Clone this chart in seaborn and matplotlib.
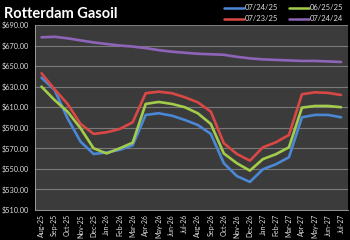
import pandas as pd
import matplotlib
matplotlib.use('Agg')
import matplotlib.pyplot as plt
import seaborn as sns

# Forward curve data
months = ['Aug-25', 'Sep-25', 'Oct-25', 'Nov-25', 'Dec-25', 'Jan-26', 'Feb-26', 'Mar-26',
          'Apr-26', 'May-26', 'Jun-26', 'Jul-26', 'Aug-26', 'Sep-26', 'Oct-26', 'Nov-26',
          'Dec-26', 'Jan-27', 'Feb-27', 'Mar-27', 'Apr-27', 'May-27', 'Jun-27', 'Jul-27']

curve_072425 = [638.7, 626.8, 599.2, 576.5, 564.5, 566.0, 568.5, 573.0, 602.5, 604.1, 601.8, 597.6,
                592.7, 584.0, 555.5, 543.0, 537.3, 549.6, 554.5, 561.3, 600.2, 602.5, 602.5, 600.2]
curve_072325 = [643.0, 627.4, 613.2, 593.7, 584.0, 585.6, 588.8, 595.3, 623.6, 625.1, 623.6, 619.7,
                614.8, 605.7, 575.0, 564.5, 558.0, 571.0, 575.9, 583.0, 622.6, 624.5, 623.9, 621.9]
curve_062525 = [630.0, 617.0, 605.7, 589.5, 570.0, 565.0, 570.0, 575.5, 613.2, 615.1, 613.2, 610.0,
                604.1, 593.7, 565.0, 555.5, 548.3, 559.5, 564.3, 571.0, 609.6, 611.2, 611.2, 610.0]
curve_072424 = [678.0, 678.5, 677.0, 675.0, 673.0, 671.5, 670.0, 669.0, 667.5, 665.5, 664.0, 663.0,
                662.0, 661.5, 661.0, 659.0, 657.5, 656.5, 656.0, 655.5, 655.0, 655.0, 654.5, 654.0]

series_names = ['07/24/25', '07/23/25', '06/25/25', '07/24/24']
series_colors = ['#4a88d6', '#d94845', '#a2cc4a', '#8e64b8']

y_ticks = [510, 530, 550, 570, 590, 610, 630, 650, 670, 690]

frames = []
for name, vals in zip(series_names, [curve_072425, curve_072325, curve_062525, curve_072424]):
    frames.append(pd.DataFrame({'idx': range(len(months)), 'price': vals, 'series': name}))
df = pd.concat(frames, ignore_index=True)

sns.set_style('dark')
plt.rcParams['font.family'] = ['Lato', 'DejaVu Sans']

fig = plt.figure(figsize=(3.5, 2.4), dpi=100, facecolor='black')
ax = fig.add_axes([0.10, 0.125, 0.893, 0.771])
ax.set_facecolor('#3b3b3b')

sns.lineplot(data=df, x='idx', y='price', hue='series', hue_order=series_names,
             palette=series_colors, linewidth=1.9, ax=ax, legend=False)

ax.set_xlim(-0.5, len(months) - 0.5)
ax.set_ylim(510, 690)
ax.set_yticks(y_ticks)
ax.set_yticklabels([f'${v:.2f}' for v in y_ticks], fontsize=5.3, color='#dddddd')
ax.set_xticks(range(len(months)))
ax.set_xticklabels(months, rotation=90, fontsize=5, color='#dddddd')
ax.set_xticks([i - 0.5 for i in range(len(months) + 1)], minor=True)
ax.tick_params(axis='x', which='major', length=0, pad=3)
ax.tick_params(axis='x', which='minor', length=2.5, color='#bbbbbb', width=0.6)
ax.tick_params(axis='y', length=2.5, color='#bbbbbb', width=0.6, pad=2)
ax.grid(axis='y', color='#7a7a7a', linewidth=0.8)
ax.grid(axis='x', visible=False)
ax.set_xlabel('')
ax.set_ylabel('')
for side in ['top', 'right']:
    ax.spines[side].set_visible(False)
ax.spines['left'].set_color('#aaaaaa')
ax.spines['bottom'].set_color('#aaaaaa')
ax.spines['left'].set_linewidth(0.6)
ax.spines['bottom'].set_linewidth(0.6)

fig.text(0.01, 0.925, 'Rotterdam Gasoil', fontsize=10.5, fontweight='bold', color='white')

handles = [plt.Line2D([0], [0], color=c, linewidth=1.8) for c in series_colors]
fig.legend(handles, series_names, loc='upper right', bbox_to_anchor=(1.0, 1.01), ncol=2,
           frameon=False, fontsize=5.5, labelcolor='#dddddd', handlelength=2.6,
           handletextpad=0.1, columnspacing=1.4, labelspacing=0.5)

fig.savefig('out.png', dpi=100, facecolor='black')
